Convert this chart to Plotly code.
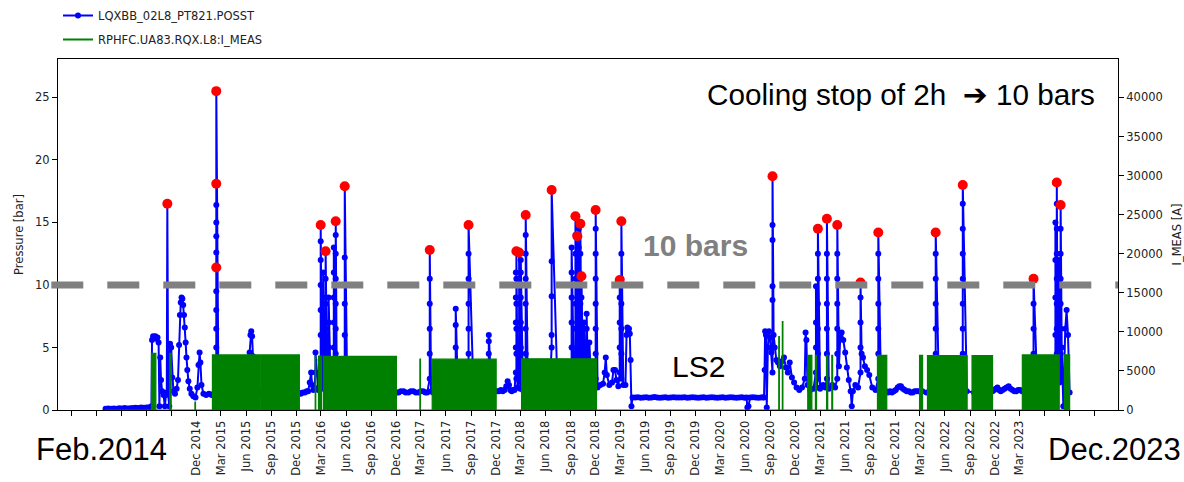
import pandas as pd
import plotly.graph_objects as go

# ---------------- data ----------------
# pressure readings [bar], split by period (date list + value list)
t_2014 = ["2014-01-03", "2014-01-13", "2014-01-23", "2014-02-02", "2014-02-12", "2014-02-22", "2014-03-04",
          "2014-03-14", "2014-03-24", "2014-04-03", "2014-04-13", "2014-04-23", "2014-05-03", "2014-05-13",
          "2014-05-23", "2014-06-02", "2014-06-12", "2014-06-20",
          "2014-06-22", "2014-06-26", "2014-06-30", "2014-07-04", "2014-07-08", "2014-07-12", "2014-07-16",
          "2014-07-19", "2014-07-22", "2014-07-25", "2014-07-29", "2014-08-03", "2014-08-08", "2014-08-12",
          "2014-08-15",
          "2014-08-20", "2014-08-24", "2014-08-27", "2014-08-31", "2014-09-04", "2014-09-08", "2014-09-14",
          "2014-09-20", "2014-09-25", "2014-09-29", "2014-10-02", "2014-10-05", "2014-10-08", "2014-10-11",
          "2014-10-14", "2014-10-17", "2014-10-20", "2014-10-23", "2014-10-26", "2014-10-29", "2014-11-02",
          "2014-11-07", "2014-11-13", "2014-11-20", "2014-11-28", "2014-12-05", "2014-12-09", "2014-12-13",
          "2014-12-16", "2014-12-20", "2014-12-27", "2015-01-06", "2015-01-16", "2015-01-26", "2015-02-05"]
p_2014 = [0.10, 0.12, 0.10, 0.12, 0.10, 0.14, 0.12, 0.15, 0.12, 0.14, 0.15, 0.18, 0.15, 0.20, 0.18, 0.20, 0.22, 0.30,
          5.6, 5.9, 5.8, 5.9, 5.7, 5.8, 5.4, 0.3, 4.2, 2.4, 1.5, 1.2, 0.3, 1.2, 1.4,
          1.3, 0.3, 5.3, 5.0, 2.6, 1.5, 1.3, 1.7, 2.4, 5.2, 7.6, 8.6, 9.0, 8.9, 8.4, 7.6, 6.6, 5.4, 4.2, 3.2,
          2.3, 1.7, 1.3, 1.1, 1.0, 1.8, 3.6, 4.6, 3.8, 2.0, 1.3, 1.2, 1.3, 1.2, 1.4]

t_2015 = ["2015-02-20", "2015-03-10", "2015-04-01", "2015-04-25", "2015-05-18", "2015-06-10", "2015-06-14",
          "2015-06-17", "2015-06-20", "2015-06-23", "2015-06-26", "2015-07-02", "2015-07-28", "2015-08-22",
          "2015-09-18", "2015-10-14", "2015-11-08", "2015-12-02", "2015-12-10", "2015-12-18", "2015-12-26",
          "2016-01-02", "2016-01-09", "2016-01-14", "2016-01-20", "2016-01-25", "2016-01-29", "2016-02-02",
          "2016-02-06"]
p_2015 = [1.5, 1.4, 1.5, 1.4, 1.5, 1.5, 4.6, 6.0, 6.3, 5.9, 4.3, 1.5, 1.4, 1.5, 1.4, 1.5, 1.4, 1.5, 1.4, 1.3, 1.4,
          1.4, 1.5, 1.5, 2.2, 3.0, 2.0, 1.6, 1.8]

t_2016 = ["2016-02-20", "2016-03-04", "2016-03-14", "2016-03-24", "2016-04-06", "2016-04-28", "2016-05-12",
          "2016-06-05", "2016-07-10", "2016-08-15", "2016-09-20", "2016-10-25", "2016-11-25", "2016-12-03",
          "2016-12-10", "2016-12-18", "2016-12-28", "2017-01-05", "2017-01-15", "2017-01-24", "2017-02-02",
          "2017-02-11", "2017-02-20", "2017-03-01", "2017-03-10", "2017-03-18", "2017-03-25", "2017-04-08",
          "2017-04-15"]
p_2016 = [1.6, 1.7, 1.8, 1.7, 1.6, 1.6, 1.5, 1.5, 1.4, 1.5, 1.4, 1.5, 1.4, 1.4, 1.4, 1.5, 1.5, 1.4, 1.4, 1.5, 1.5,
          1.4, 1.4, 1.5, 1.5, 1.4, 1.4, 1.5, 1.4]

t_2017 = ["2017-05-15", "2017-06-15", "2017-07-15", "2017-08-10", "2017-09-10", "2017-10-05", "2017-10-25",
          "2017-11-15", "2017-11-25", "2017-12-05", "2017-12-12", "2017-12-19", "2017-12-26", "2018-01-02",
          "2018-01-08", "2018-01-13", "2018-01-18", "2018-01-23", "2018-01-28", "2018-02-03", "2018-02-07",
          "2018-02-18", "2018-02-28", "2018-03-10", "2018-03-28", "2018-04-20", "2018-05-20", "2018-06-15",
          "2018-07-15", "2018-08-15", "2018-08-28", "2018-09-12", "2018-10-15", "2018-10-25", "2018-11-03",
          "2018-11-15", "2018-11-25"]
p_2017 = [1.5, 1.4, 1.5, 1.4, 1.5, 1.4, 1.5, 1.5, 1.5, 1.5, 1.5, 1.6, 1.5, 1.6, 1.9, 2.3, 2.0, 1.6, 1.5, 1.6, 1.6,
          1.8, 1.7, 1.6, 1.5, 1.5, 1.4, 1.5, 1.4, 1.5, 2.0, 3.0, 3.5, 2.5, 2.5, 2.0, 1.8]

t_2019 = ["2018-12-08", "2018-12-18", "2018-12-28", "2019-01-03", "2019-01-07", "2019-01-11", "2019-01-20",
          "2019-01-30", "2019-02-04", "2019-02-10", "2019-02-15", "2019-02-22", "2019-03-12", "2019-03-20",
          "2019-03-24", "2019-03-27", "2019-03-30", "2019-04-02", "2019-04-05", "2019-04-08", "2019-04-11",
          "2019-04-15"]
p_2019 = [1.8, 2.0, 2.1, 3.0, 4.2, 2.8, 2.0, 2.2, 3.2, 3.2, 2.4, 1.9, 2.0, 2.0, 6.0, 6.6, 6.3, 6.5, 6.1, 4.0, 0.3,
          1.0]

t_ls2 = ["2019-04-25", "2019-05-05", "2019-05-15", "2019-05-25", "2019-06-04", "2019-06-14", "2019-06-24",
         "2019-07-04", "2019-07-14", "2019-07-24", "2019-08-03", "2019-08-13", "2019-08-23", "2019-09-02",
         "2019-09-12", "2019-09-22", "2019-10-02", "2019-10-12", "2019-10-22", "2019-11-01", "2019-11-11",
         "2019-11-21", "2019-12-01", "2019-12-11", "2019-12-21", "2019-12-31", "2020-01-10", "2020-01-20",
         "2020-01-30", "2020-02-09", "2020-02-19", "2020-02-29", "2020-03-10", "2020-03-20", "2020-03-30",
         "2020-04-09", "2020-04-19", "2020-04-29", "2020-05-09", "2020-05-19", "2020-05-29", "2020-06-05",
         "2020-06-08", "2020-06-12", "2020-06-18", "2020-06-28", "2020-07-08", "2020-07-18", "2020-07-28",
         "2020-08-05"]
p_ls2 = [1.00, 1.02, 0.98, 1.00, 1.01, 0.97, 1.00, 1.03, 1.00, 0.98,
         1.00, 1.01, 0.97, 1.00, 1.02, 1.00, 0.99, 1.00, 1.01, 0.97,
         1.00, 1.02, 1.00, 0.98, 1.00, 1.01, 0.97, 1.00, 1.02, 1.00,
         0.98, 1.00, 1.01, 0.97, 1.00, 1.02, 1.00, 0.98, 1.00, 1.01,
         0.97, 1.00, 0.20, 0.30, 1.00, 1.02, 1.00, 0.98, 1.00, 1.01]

t_2020 = ["2020-08-08", "2020-08-10", "2020-08-12", "2020-08-15", "2020-08-18", "2020-08-22", "2020-08-26",
          "2020-08-30", "2020-09-04", "2020-09-12", "2020-09-16", "2020-09-22", "2020-09-28", "2020-10-05",
          "2020-10-12", "2020-10-20", "2020-10-27", "2020-11-03", "2020-11-10", "2020-11-18", "2020-11-26",
          "2020-12-05", "2020-12-15", "2020-12-25", "2021-01-04", "2021-01-07", "2021-01-10", "2021-01-14",
          "2021-01-24", "2021-02-05", "2021-02-17", "2021-03-01", "2021-03-12", "2021-03-20", "2021-04-02",
          "2021-04-15", "2021-04-25", "2021-05-09", "2021-05-14", "2021-05-19", "2021-05-25", "2021-06-01",
          "2021-06-07", "2021-06-14", "2021-06-21", "2021-06-25", "2021-06-29", "2021-07-08", "2021-07-18",
          "2021-07-31", "2021-08-05", "2021-08-12", "2021-08-20", "2021-08-28", "2021-09-08", "2021-09-20"]
p_2020 = [1.0, 3.2, 6.3, 6.0, 0.2, 5.0, 6.3, 5.8, 4.6, 6.0, 5.0, 4.0, 3.8, 3.5, 3.9, 4.2, 3.4, 3.0, 3.8, 2.6, 2.2,
          1.8, 1.6, 1.8, 2.5, 6.2, 5.6, 2.0, 1.6, 1.7, 1.8, 1.7, 2.0, 1.8, 1.7, 2.0, 1.8, 3.5, 5.8, 6.2, 5.6, 4.6,
          3.4, 2.4, 1.5, 0.3, 1.5, 2.0, 1.8, 4.5, 4.2, 3.5, 3.2, 2.8, 1.8, 1.6]

t_2022 = ["2021-10-10", "2021-10-20", "2021-10-28", "2021-11-05", "2021-11-12", "2021-11-19", "2021-11-26",
          "2021-12-03", "2021-12-10", "2021-12-16", "2021-12-22", "2021-12-29", "2022-01-05", "2022-01-12",
          "2022-01-20", "2022-01-27", "2022-02-03", "2022-02-10", "2022-02-17", "2022-02-24", "2022-03-10",
          "2022-03-25", "2022-04-10", "2022-05-10", "2022-06-05", "2022-07-01", "2022-07-20", "2022-08-20",
          "2022-09-15", "2022-10-10", "2022-11-05", "2022-11-22", "2022-11-28", "2022-12-04", "2022-12-10",
          "2022-12-16", "2022-12-22", "2022-12-29", "2023-01-05", "2023-01-12", "2023-01-20", "2023-01-27",
          "2023-02-03", "2023-02-10", "2023-02-17", "2023-02-24", "2023-03-03", "2023-03-10", "2023-03-25",
          "2023-04-10", "2023-05-05", "2023-05-30", "2023-06-20", "2023-07-05", "2023-07-12", "2023-07-18",
          "2023-07-25", "2023-08-02", "2023-08-08", "2023-08-15", "2023-08-20", "2023-08-25", "2023-08-31"]
p_2022 = [1.6, 1.5, 1.5, 1.4, 1.5, 1.4, 1.5, 1.6, 1.8, 1.9, 1.9, 1.7, 1.6, 1.5, 1.5, 1.4, 1.4, 1.5, 1.5, 1.5, 1.5,
          1.4, 1.5, 1.5, 1.4, 1.5, 1.5, 1.5, 1.4, 1.5, 1.5, 1.5, 1.6, 1.7, 1.8, 1.6, 1.5, 1.6, 1.7, 1.8, 1.9, 1.7,
          1.6, 1.5, 1.5, 1.6, 1.6, 1.5, 1.5, 1.5, 1.5, 1.4, 1.5, 1.6, 2.0, 2.5, 2.2, 5.0, 0.3, 6.5, 8.0, 6.0, 1.4]

# fast pressure rises (dots sampled along the rise) [bar]
spike_dates = [
    "2014-08-17", "2015-02-12", "2016-02-10", "2016-02-29", "2016-03-09", "2016-03-18", "2016-03-29", "2016-04-17",
    "2016-04-24", "2016-05-27", "2017-04-03", "2017-07-07", "2017-08-23", "2017-11-05", "2018-02-12", "2018-02-14",
    "2018-02-24", "2018-03-02", "2018-03-20", "2018-06-23", "2018-09-04", "2018-09-18", "2018-09-25", "2018-09-30",
    "2018-10-06", "2018-10-10", "2018-10-20", "2018-10-29", "2018-11-08", "2018-12-01", "2019-02-27", "2019-03-05",
    "2020-09-08", "2021-02-14", "2021-02-21", "2021-03-26", "2021-05-03", "2021-07-27", "2021-09-30", "2022-04-28",
    "2022-08-05", "2023-04-21", "2023-07-10", "2023-07-15", "2023-07-22", "2023-07-29",
]
spike_levels = [
    [16.5], [2, 3.5, 5, 6.5, 8, 9.5, 11.4, 12.6, 13.9, 15, 16.4, 18.1, 25.5], [3, 4.6],
    [2, 4, 6, 8, 10, 12, 13.5, 14.8], [3, 5, 7, 9, 11], [2.5, 4.5, 6.5, 8.5, 10.5, 12.7], [3, 5, 7, 9],
    [3, 5, 7, 9, 11, 13], [2.5, 4.5, 6.5, 8.5, 10.5, 12.5, 14, 15.1], [3, 6, 8.5, 12.2, 17.9],
    [2.5, 4.5, 6.5, 8.5, 10.5, 12.8], [3, 5, 6.8, 8.1], [2.5, 4.5, 6.5, 8.5, 10.5, 12.5, 14.8], [2.5, 4.5, 5.5, 6.0],
    [3, 5, 7, 9, 11], [2.5, 4.5, 6.5, 8.5, 10.5, 12.7], [2.5, 4.5, 6.5, 8.5, 10.5, 12.6], [3, 5, 7, 9, 11, 12],
    [2.5, 4.5, 6.5, 8.5, 10.5, 12.5, 14, 15.6], [5, 6, 9.1, 11.9, 17.6], [3, 5, 7, 9, 11, 13],
    [2.5, 4.5, 6.5, 8.5, 10.5, 12.5, 14, 15.5], [3, 5, 7, 9, 11, 12.5, 13.9], [3, 5, 7, 9, 11, 13, 14.5],
    [2.5, 4.5, 6.5, 8.5, 10.5, 12.5, 14.9], [3, 5, 7, 9, 10.7], [3, 5, 7], [3, 5, 6.5, 7.7], [3, 5.4],
    [2.5, 4.5, 6.5, 8.5, 10.5, 12.5, 14.5, 16.0], [3, 5, 7, 9, 10.4], [2.5, 4.5, 6.5, 8.5, 10.5, 12.5, 15.1],
    [3, 5, 8.8, 9.9, 13.6, 14.8, 18.7], [3, 5, 7, 9.9], [2.5, 4.5, 6.5, 8.5, 10.5, 12.5, 14.5],
    [2.5, 4.5, 6.5, 8.5, 10.5, 12.5, 15.3], [2.5, 4.5, 6.5, 8.5, 10.5, 12.5, 14.8], [3, 5, 7, 9, 10.2],
    [2.5, 4.5, 6.5, 8.5, 10.5, 12.5, 14.2], [2.5, 4.5, 6.5, 8.5, 10.5, 12.5, 14.2],
    [2.5, 4.5, 6.5, 8.5, 10.5, 12.5, 14.5, 16.5, 18.0], [2.5, 4.5, 6.5, 8.5, 10.5], [3, 6, 9, 12, 15],
    [2.5, 4.5, 6.5, 8.5, 10.5, 12.5, 14.5, 16.5, 18.2], [3, 6, 9, 12], [2.5, 4.5, 6.5, 8.5, 10.5, 12.5, 14.5, 16.4],
]

# highlighted maxima (red dots) [bar]
peak_dates = [
    "2014-08-17", "2015-02-12", "2015-02-12", "2015-02-12", "2016-02-29", "2016-03-18", "2016-04-24", "2016-05-27",
    "2017-04-03", "2017-08-23", "2018-02-14", "2018-02-24", "2018-03-20", "2018-06-23", "2018-09-18", "2018-09-25",
    "2018-10-06", "2018-10-10", "2018-12-01", "2019-02-27", "2019-03-05", "2020-09-08", "2021-02-21", "2021-03-26",
    "2021-05-03", "2021-07-27", "2021-09-30", "2022-04-28", "2022-08-05", "2023-04-21", "2023-07-15", "2023-07-29",
]
peak_bar = [
    16.5, 25.5, 18.1, 11.4, 14.8, 12.7, 15.1, 17.9,
    12.8, 14.8, 12.7, 12.6, 15.6, 17.6, 15.5, 13.9,
    14.9, 10.7, 16.0, 10.4, 15.1, 18.7, 14.5, 15.3,
    14.8, 10.2, 14.2, 14.2, 18.0, 10.5, 18.2, 16.4,
]

# powering periods of RQX.L8 (current plateau) [A]
run_start = [
    "2014-06-20", "2014-08-26", "2014-11-26", "2015-01-29", "2015-07-23", "2016-02-09", "2016-02-21", "2016-03-10",
    "2017-02-26", "2017-04-12", "2018-03-05", "2020-10-01", "2020-10-14", "2021-01-15", "2021-02-12", "2021-03-25",
    "2021-04-13", "2021-09-27", "2022-02-28", "2022-03-29", "2022-09-08", "2023-03-11", "2023-08-12",
]
run_end = [
    "2014-07-06", "2014-08-31", "2014-11-28", "2015-07-20", "2015-12-13", "2016-02-11", "2016-03-03", "2016-12-02",
    "2017-02-28", "2017-12-02", "2018-12-04", "2020-10-03", "2020-10-16", "2021-01-30", "2021-02-16", "2021-03-29",
    "2021-04-16", "2021-10-31", "2022-03-11", "2022-08-21", "2022-11-22", "2023-07-24", "2023-08-31",
]
run_current = [
    7250, 7250, 1000, 7050, 7050, 6900, 6900, 6850,
    6500, 6500, 6550, 9400, 11300, 7000, 7000, 7000,
    7000, 7000, 7000, 6950, 6950, 7050, 7050,
]

series_names = ["LQXBB_02L8_PT821.POSST", "RPHFC.UA83.RQX.L8:I_MEAS"]
tick_labels = [
    "Sep 2013", "Dec 2013", "Mar 2014", "Jun 2014", "Sep 2014",
    "Dec 2014", "Mar 2015", "Jun 2015", "Sep 2015", "Dec 2015", "Mar 2016", "Jun 2016", "Sep 2016",
    "Dec 2016", "Mar 2017", "Jun 2017", "Sep 2017", "Dec 2017", "Mar 2018", "Jun 2018", "Sep 2018",
    "Dec 2018", "Mar 2019", "Jun 2019", "Sep 2019", "Dec 2019", "Mar 2020", "Jun 2020", "Sep 2020",
    "Dec 2020", "Mar 2021", "Jun 2021", "Sep 2021", "Dec 2021", "Mar 2022", "Jun 2022", "Sep 2022",
    "Dec 2022", "Mar 2023", "Jun 2023", "Sep 2023", "Dec 2023",
]
covered_labels = {"Sep 2013", "Dec 2013", "Mar 2014", "Jun 2014", "Sep 2014", "Jun 2023", "Sep 2023", "Dec 2023"}
threshold_bar = 10
bar_to_amp = 1600  # right axis scale factor (25 bar <-> 40000 A)

# ---------------- build series ----------------
periods = [(t_2014, p_2014), (t_2015, p_2015), (t_2016, p_2016), (t_2017, p_2017), (t_2019, p_2019),
           (t_ls2, p_ls2), (t_2020, p_2020), (t_2022, p_2022)]
frames = []
for t, p in periods:
    assert len(t) == len(p), (t[0], len(t), len(p))
    frames.append(pd.DataFrame({"t": pd.to_datetime(t), "p": p}))
rows = []
for d, levels in zip(spike_dates, spike_levels):
    t0 = pd.Timestamp(d)
    for k, v in enumerate(levels):
        rows.append((t0 + pd.Timedelta(minutes=20 * k), v))
frames.append(pd.DataFrame(rows, columns=["t", "p"]))
pressure = pd.concat(frames).sort_values("t", kind="stable")

gx, gy = [pd.Timestamp(t_2014[0])], [0]
for s, e, a in zip(run_start, run_end, run_current):
    gx += [pd.Timestamp(s), pd.Timestamp(s), pd.Timestamp(e), pd.Timestamp(e)]
    gy += [0, a, a, 0]
gx.append(pd.Timestamp(t_2022[-1]))
gy.append(0)

# ---------------- figure ----------------
W, H = 1184, 482
ML, MR, MT, MB = 58, 66, 59, 72
PW, PH = W - ML - MR, H - MT - MB


def px(x):
    return (x - ML) / PW


def py(y):
    return (H - MB - y) / PH


ymax = 28.07
fig = go.Figure()
fig.add_trace(go.Scatter(
    x=pressure["t"], y=pressure["p"], mode="lines+markers", name=series_names[0],
    line=dict(color="#0000ff", width=2), marker=dict(color="#0000ff", size=6),
    legendgroup="a", yaxis="y"))
fig.add_trace(go.Scatter(
    x=pd.to_datetime(peak_dates), y=peak_bar, mode="markers", showlegend=False,
    marker=dict(color="#ff0000", size=10), yaxis="y"))
fig.add_trace(go.Scatter(
    x=gx, y=gy, mode="lines", showlegend=False, fill="tozeroy",
    line=dict(color="#008000", width=1.2), fillcolor="#008000", yaxis="y2"))
fig.add_trace(go.Scatter(
    x=[None], y=[None], mode="lines", name=series_names[1], legendgroup="b",
    line=dict(color="#008000", width=2), yaxis="y2"))

tickfont = dict(family="DejaVu Sans", size=11.5, color="#222222")
fig.update_layout(
    width=W, height=H, margin=dict(l=ML, r=MR, t=MT, b=MB, autoexpand=False),
    paper_bgcolor="white", plot_bgcolor="white",
    showlegend=True,
    legend=dict(x=px(58), y=py(1), xanchor="left", yanchor="top", bgcolor="rgba(0,0,0,0)",
                font=dict(family="DejaVu Sans", size=11.5, color="#222222"), tracegroupgap=5),
    xaxis=dict(type="date", range=["2013-07-13", "2024-02-24"], automargin=False,
               tickvals=pd.to_datetime(tick_labels, format="%b %Y"),
               ticktext=["" if t in covered_labels else t for t in tick_labels],
               tickangle=-90, ticks="outside", ticklen=5, tickcolor="black", tickfont=tickfont,
               showgrid=False, zeroline=False, showline=True, linecolor="black", linewidth=1, mirror=True),
    yaxis=dict(range=[0, ymax], tickvals=[0, 5, 10, 15, 20, 25], ticks="outside", ticklen=5, automargin=False,
               tickcolor="black", tickfont=tickfont, showgrid=False, zeroline=False,
               showline=True, linecolor="black", linewidth=1,
               title=dict(text="Pressure [bar]", font=tickfont, standoff=9)),
    yaxis2=dict(range=[0, ymax * bar_to_amp], tickvals=list(range(0, 45000, 5000)), overlaying="y",
                tickformat="d", automargin=False,
                side="right", ticks="outside", ticklen=5, tickcolor="black", tickfont=tickfont,
                showgrid=False, zeroline=False, showline=True, linecolor="black", linewidth=1,
                title=dict(text="I_MEAS [A]", font=tickfont, standoff=15)),
)

fig.add_shape(type="line", xref="paper", yref="y", x0=px(51.3), x1=1.0, y0=threshold_bar, y1=threshold_bar,
              line=dict(color="#808080", width=7, dash="32px,24px"), layer="above")

big = "Liberation Sans, Arial, sans-serif"
fig.add_annotation(x=px(1097), y=py(95), xref="paper", yref="paper", xanchor="right", yanchor="middle",
                   text="Cooling stop of 2h  <span style='font-family:DejaVu Sans'>\u2794</span> 10 bars",
                   showarrow=False, font=dict(family=big, size=29.7, color="black"))
fig.add_annotation(x=px(695), y=py(245), xref="paper", yref="paper", xanchor="center", yanchor="middle",
                   text="<b>10 bars</b>", showarrow=False, font=dict(family=big, size=30, color="#808080"))
fig.add_annotation(x=px(698), y=py(366), xref="paper", yref="paper", xanchor="center", yanchor="middle",
                   text="LS2", showarrow=False, font=dict(family=big, size=30, color="black"))
fig.add_annotation(x=px(101), y=py(450), xref="paper", yref="paper", xanchor="center", yanchor="middle",
                   text="Feb.2014", showarrow=False, font=dict(family=big, size=31, color="black"))
fig.add_annotation(x=px(1114), y=py(450), xref="paper", yref="paper", xanchor="center", yanchor="middle",
                   text="Dec.2023", showarrow=False, font=dict(family=big, size=31, color="black"))

fig.write_html("out.html")
